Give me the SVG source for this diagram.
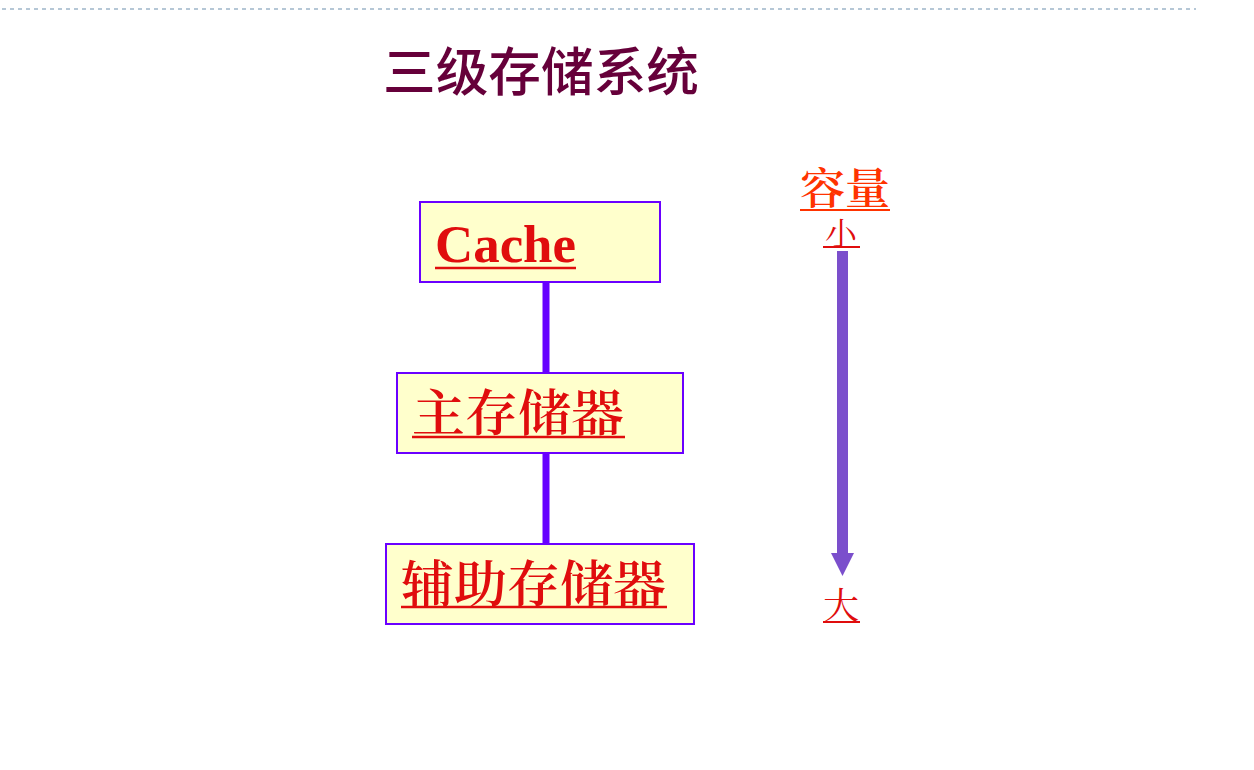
<svg xmlns="http://www.w3.org/2000/svg" width="1254" height="770" viewBox="0 0 1254 770">
<style>
.box{fill:#ffffcc;stroke:#6a00ff;stroke-width:2}
.lbl{font-family:"Noto Serif CJK SC","Noto Sans CJK SC",serif;fill:#e00d0d;font-size:50px;font-weight:600}
.ul{stroke:#e00d0d;stroke-width:2.5}
.conn{stroke:#6600ff;stroke-width:7}
.cjk{font-family:"Noto Serif CJK SC","Noto Sans CJK SC",serif}
</style>
<rect width="1254" height="770" fill="#ffffff"/>
<line x1="2" y1="9" x2="1196" y2="9" stroke="#9db5c9" stroke-width="1.5" stroke-dasharray="4,4"/>
<text x="383" y="91" font-family="'Noto Sans CJK SC',sans-serif" font-weight="500" font-size="52" fill="#66003a" textLength="316" lengthAdjust="spacingAndGlyphs">三级存储系统</text>
<g id="connectors">
<line class="conn" x1="546" y1="278" x2="546" y2="377"/>
<line class="conn" x1="546" y1="449" x2="546" y2="545"/>
</g>
<g id="cache">
<rect class="box" x="420" y="202" width="240" height="80"/>
<text x="435" y="262" font-family="'Liberation Serif',serif" font-weight="bold" font-size="53" fill="#e00d0d" textLength="141" lengthAdjust="spacingAndGlyphs">Cache</text>
<line class="ul" x1="435" y1="268" x2="576" y2="268"/>
</g>
<g id="main">
<rect class="box" x="397" y="373" width="286" height="80"/>
<text class="lbl" x="412" y="431" textLength="212" lengthAdjust="spacingAndGlyphs">主存储器</text>
<line class="ul" x1="412" y1="437" x2="625" y2="437"/>
</g>
<g id="aux">
<rect class="box" x="386" y="544" width="308" height="80"/>
<text class="lbl" x="401" y="602" textLength="265" lengthAdjust="spacingAndGlyphs">辅助存储器</text>
<line class="ul" x1="401" y1="607" x2="667" y2="607"/>
</g>
<g id="capacity">
<text class="cjk" x="800" y="204" font-size="43" font-weight="600" fill="#ff3300" textLength="90" lengthAdjust="spacingAndGlyphs">容量</text>
<line x1="800" y1="210" x2="890" y2="210" stroke="#ff3300" stroke-width="2"/>
<text class="cjk" x="825" y="245" font-size="32" fill="#e00d0d">小</text>
<line x1="823" y1="247" x2="860" y2="247" stroke="#e00d0d" stroke-width="2"/>
<rect x="837" y="251" width="11" height="304" fill="#7b4fcc"/>
<polygon points="831,553 854,553 842.5,576" fill="#7b4fcc"/>
<text class="cjk" x="823" y="619" font-size="36" fill="#e00d0d">大</text>
<line x1="823" y1="622" x2="860" y2="622" stroke="#e00d0d" stroke-width="2"/>
</g>
</svg>
